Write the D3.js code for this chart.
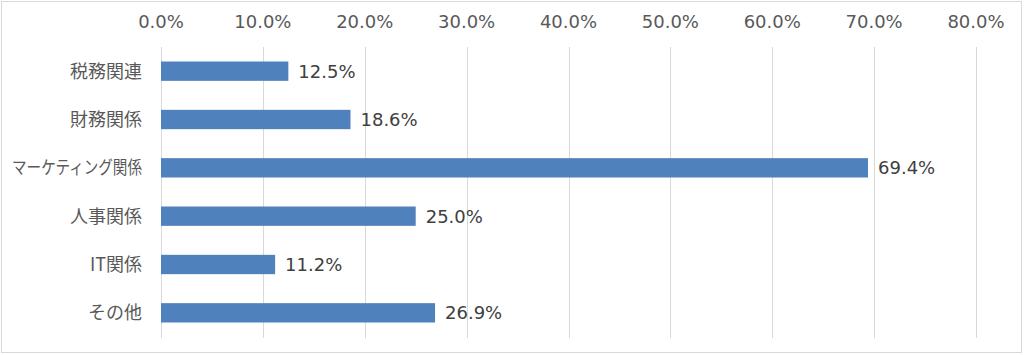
<!DOCTYPE html>
<html>
<head>
<meta charset="utf-8">
<script src="https://cdn.jsdelivr.net/npm/d3@7"></script>
<style>
    body { margin: 0; background: #fff; }
    svg text { font-family: "DejaVu Sans", sans-serif; }
    svg text.cat { font-family: "Noto Sans CJK JP", sans-serif; }
</style>
</head>
<body>
<div id="chart"></div>
<script>
// chart data
const categories = ['税務関連', '財務関係', 'マーケティング関係', '人事関係', 'IT関係', 'その他'];
const values = [12.5, 18.6, 69.4, 25.0, 11.2, 26.9];
const tickValues = [0, 10, 20, 30, 40, 50, 60, 70, 80];

const width = 1024, height = 355;
const margin = {top: 47, right: 48, bottom: 17, left: 161};

const svg = d3.select('#chart').append('svg')
    .attr('width', width)
    .attr('height', height);

// outer border
svg.append('rect')
    .attr('x', 1.5).attr('y', 1.5)
    .attr('width', width - 4).attr('height', height - 4)
    .attr('fill', '#fff')
    .attr('stroke', '#d9d9d9');

const x = d3.scaleLinear()
    .domain([0, 80])
    .range([margin.left, width - margin.right]);

const y = d3.scaleBand()
    .domain(categories)
    .range([margin.top, height - margin.bottom - 1])
    .paddingInner(0.6)
    .paddingOuter(0.3);

// gridlines
svg.append('g')
    .selectAll('line')
    .data(tickValues)
    .join('line')
    .attr('x1', d => Math.round(x(d)) + 0.5)
    .attr('x2', d => Math.round(x(d)) + 0.5)
    .attr('y1', margin.top)
    .attr('y2', height - margin.bottom)
    .attr('stroke', '#d9d9d9');

// top axis labels
svg.append('g')
    .selectAll('text')
    .data(tickValues)
    .join('text')
    .attr('x', d => x(d))
    .attr('y', 28)
    .attr('text-anchor', 'middle')
    .attr('fill', '#595959')
    .style('font-size', '18px')
    .text(d => d.toFixed(1) + '%');

// category labels (squeeze the long one so it fits the left margin)
const maxLabel = 130;
svg.append('g')
    .selectAll('text')
    .data(categories)
    .join('text')
    .attr('class', 'cat')
    .attr('x', margin.left - 19)
    .attr('y', d => y(d) + y.bandwidth() / 2)
    .attr('dy', '0.36em')
    .attr('text-anchor', 'end')
    .attr('fill', '#595959')
    .style('font-size', '18px')
    .text(d => d)
    .each(function () {
        if (this.getComputedTextLength() > maxLabel) {
            d3.select(this)
                .attr('textLength', maxLabel)
                .attr('lengthAdjust', 'spacingAndGlyphs');
        }
    });

// bars
svg.append('g')
    .selectAll('rect')
    .data(values)
    .join('rect')
    .attr('x', x(0))
    .attr('y', (d, i) => y(categories[i]))
    .attr('width', d => x(d) - x(0))
    .attr('height', y.bandwidth())
    .attr('fill', '#4F81BD');

// value labels
svg.append('g')
    .selectAll('text')
    .data(values)
    .join('text')
    .attr('x', d => x(d) + 10)
    .attr('y', (d, i) => y(categories[i]) + y.bandwidth() / 2)
    .attr('dy', '0.36em')
    .attr('fill', '#404040')
    .style('font-size', '18px')
    .text(d => d.toFixed(1) + '%');
</script>
</body>
</html>
